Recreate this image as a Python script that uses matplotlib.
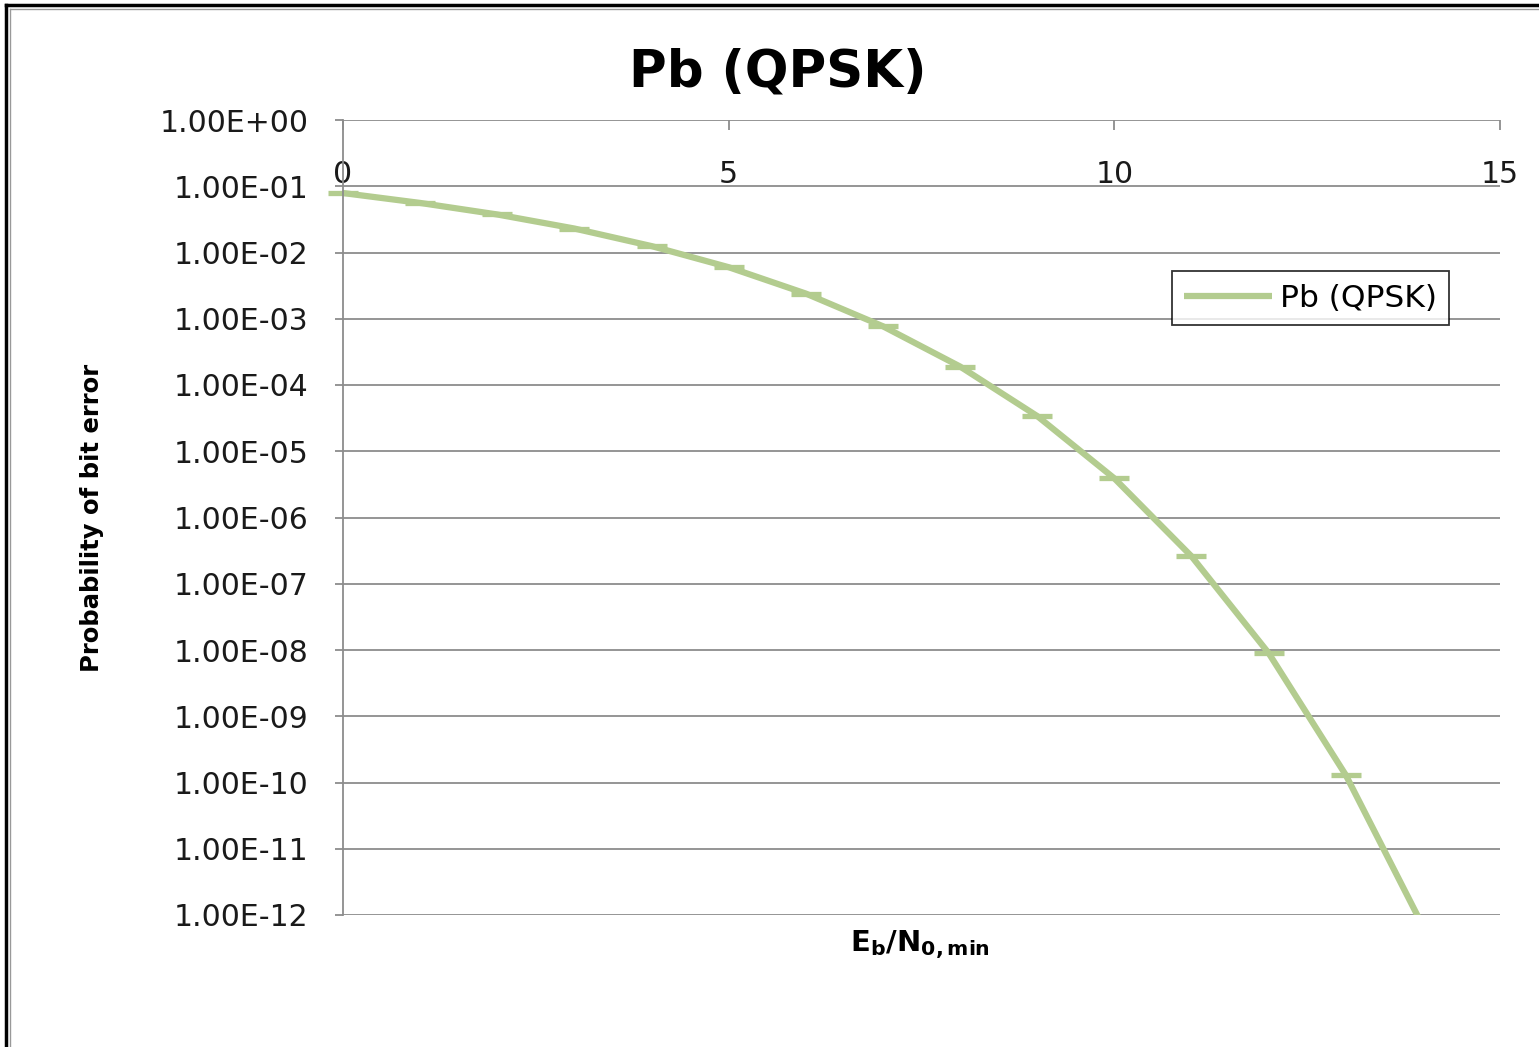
import numpy as np
import matplotlib
matplotlib.use("Agg")
import matplotlib.pyplot as plt
from matplotlib.ticker import FixedLocator, FuncFormatter, NullLocator
from matplotlib.lines import Line2D

# Eb/N0 (dB) and bit error probability
ebn0 = [0, 1, 2, 3, 4, 5, 6, 7, 8, 9, 10, 11, 12, 13, 14]
pb = [7.9e-2, 5.6e-2, 3.75e-2, 2.3e-2, 1.25e-2, 6.0e-3, 2.4e-3, 7.7e-4,
      1.9e-4, 3.4e-5, 3.9e-6, 2.6e-7, 9.0e-9, 1.3e-10, 6.8e-13]
series_name = "Pb (QPSK)"
y_ticks = [10.0 ** k for k in range(0, -13, -1)]
x_ticks = [0, 5, 10, 15]

green = "#B3CC8F"
grid_grey = "#8C8C8C"

fig = plt.figure(figsize=(15.39, 10.47), dpi=100)
ax = fig.add_axes([343 / 1539, 1 - 915 / 1047, 1157 / 1539, 795 / 1047])

# line (clipped at the axis floor like Excel does)
ax.plot(ebn0, pb, color=green, lw=4.5, label=series_name, solid_capstyle="butt",
        solid_joinstyle="round")
# dash markers, only the ones inside the value range
pb_vis = np.ma.masked_less(np.array(pb), 1e-12)
ax.plot(ebn0, pb_vis, ls="none", marker="_", ms=22, mew=3.8, color=green,
        clip_on=False)

ax.set_yscale("log")
ax.set_ylim(1e-12, 1)
ax.set_xlim(0, 15)

ax.yaxis.set_major_locator(FixedLocator(y_ticks))
ax.yaxis.set_minor_locator(NullLocator())
ax.yaxis.set_major_formatter(FuncFormatter(lambda v, p: f"{v:.2E}"))
ax.xaxis.set_major_locator(FixedLocator(x_ticks))

ax.grid(axis="y", color=grid_grey, lw=1.3)
ax.set_axisbelow(True)
for s in ["right", "bottom", "top"]:
    ax.spines[s].set_visible(False)
ax.spines["left"].set_color(grid_grey)
ax.spines["left"].set_linewidth(1.3)

ax.tick_params(axis="y", direction="out", length=6, width=1.3, color=grid_grey,
               pad=19, labelsize=21.5, labelcolor="#1a1a1a")
ax.xaxis.set_ticks_position("top")
ax.tick_params(axis="x", direction="in", length=7, width=1.3, color=grid_grey,
               pad=-50, labelsize=21.5, labelcolor="#1a1a1a")

leg = ax.legend(loc="upper left", bbox_to_anchor=(0.7165, 0.81), borderaxespad=0,
                fontsize=22.5, frameon=True, fancybox=False, handlelength=2.8,
                handletextpad=0.25, borderpad=0.4)
leg.get_frame().set_edgecolor("black")
leg.get_frame().set_linewidth(1.3)

fig.text(778 / 1539, 1 - 72 / 1047, "Pb (QPSK)", fontsize=37, fontweight="bold",
         ha="center", va="center")
fig.text(92 / 1539, 0.505, "Probability of bit error", fontsize=17.5,
         fontweight="bold", rotation=90, ha="center", va="center")
fig.text(920 / 1539, 1 - 945 / 1047, r"$\mathbf{E}_\mathbf{b}\mathbf{/N}_\mathbf{0,min}$",
         fontsize=21, ha="center", va="center")

# frame around the picture (left and top edges)
fig.add_artist(Line2D([6 / 1539, 6 / 1539], [0, 1 - 5 / 1047], color="black", lw=2.5))
fig.add_artist(Line2D([6 / 1539, 1], [1 - 5 / 1047, 1 - 5 / 1047], color="black", lw=2.5))
fig.add_artist(Line2D([10 / 1539, 10 / 1539], [0, 1 - 9 / 1047], color="#999999", lw=1))
fig.add_artist(Line2D([10 / 1539, 1], [1 - 9 / 1047, 1 - 9 / 1047], color="#999999", lw=1))

fig.savefig("out.png", dpi=100)
